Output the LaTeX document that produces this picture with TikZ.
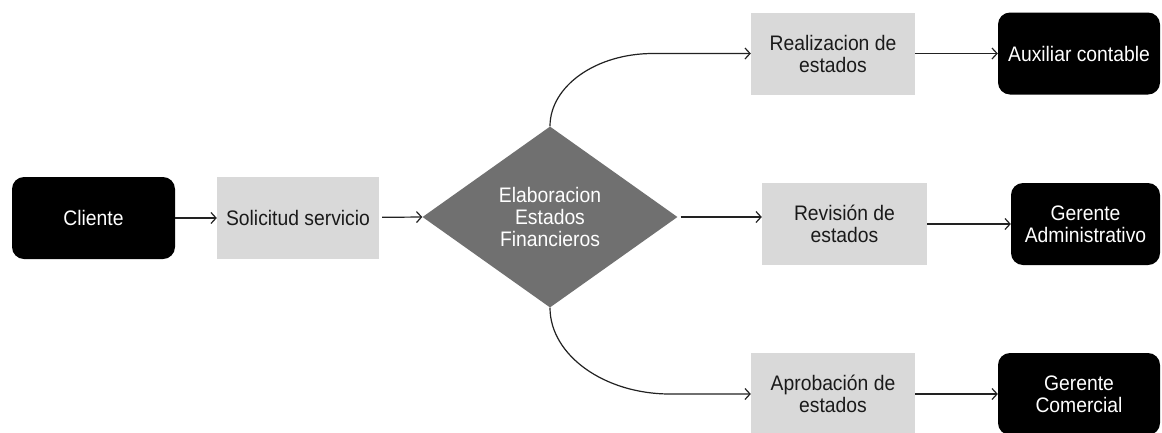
\documentclass[tikz,border=0pt]{standalone}
\usepackage{fontspec}
\setmainfont[FakeStretch=0.92]{Liberation Sans}
\usetikzlibrary{shapes.geometric,arrows.meta}
\definecolor{boxgray}{RGB}{217,217,217}
\definecolor{diagray}{RGB}{112,112,112}
\definecolor{linec}{RGB}{34,34,34}
\definecolor{textdark}{RGB}{26,26,26}
\begin{document}
\begin{tikzpicture}[x=1pt,y=-1pt,
  every node/.style={font=\fontsize{21}{22}\selectfont, align=center, inner sep=0pt},
  actor/.style={fill=black, text=white, rounded corners=12pt, minimum height=82pt},
  task/.style={fill=boxgray, text=textdark, minimum height=82pt, minimum width=164pt},
  decision/.style={diamond, fill=diagray, text=white, minimum width=255pt, minimum height=181pt},
  arr/.style={-{Straight Barb[length=5pt,width=11pt]}, line width=1.2pt, draw=linec}]

  % canvas
  \fill[white] (0,0) rectangle (1162,432);
  \useasboundingbox (0,0) rectangle (1162,432);

  % nodes
  \node[actor, minimum width=163pt] (cli) at (93.5,218) {Cliente};
  \node[task, minimum width=162pt] (sol) at (298,218) {Solicitud servicio};
  \node[decision] (dia) at (550,217) {Elaboracion\\Estados\\Financieros};

  \node[task] (rea) at (833,53.5) {Realizacion de\\estados};
  \node[task, minimum width=165pt] (rev) at (844.5,224) {Revisión de\\estados};
  \node[task] (apr) at (833,394) {Aprobación de\\estados};

  \node[actor, minimum width=162pt] (aux) at (1079,53.5) {Auxiliar contable};
  \node[actor, minimum width=149pt] (gad) at (1085.5,224) {Gerente\\Administrativo};
  \node[actor, minimum width=162pt] (gco) at (1079,394) {Gerente\\Comercial};

  % bend points of the curved branches
  \coordinate (kt) at (653,53.5);
  \coordinate (kb) at (670,394);

  % connectors
  \draw[arr] (cli) -- (sol);
  \draw[arr, shorten <=3pt] (sol) -- (dia.west);
  \draw[arr] (dia.north) .. controls (550,86) and (596,53.5) .. (kt) -- (rea.west);
  \draw[arr, shorten <=3pt] (dia.east) -- (dia.east -| rev.west);
  \draw[arr] (dia.south) .. controls (550,355) and (604,394) .. (kb) -- (apr.west);

  \draw[arr] (rea) -- (aux);
  \draw[arr] (rev) -- (gad);
  \draw[arr] (apr) -- (gco);
\end{tikzpicture}
\end{document}
